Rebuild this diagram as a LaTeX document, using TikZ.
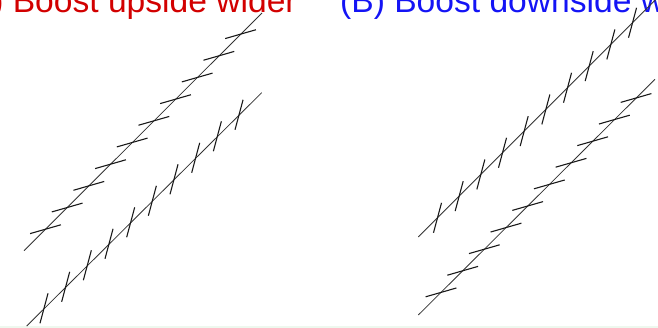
\documentclass[tikz,border=0pt]{standalone}
\usepackage{fontspec}
\setmainfont{Liberation Sans}
\usetikzlibrary{calc}
\definecolor{titlered}{RGB}{210,0,0}
\definecolor{titleblue}{RGB}{20,20,245}
\definecolor{edgegreen}{RGB}{238,248,238}
\tikzset{
  mainline/.style={line width=0.8pt, draw=black!80},
  tickline/.style={line width=1.1pt, draw=black!90},
  title/.style={anchor=base west, inner sep=0pt, font=\fontsize{33.6}{36}\selectfont}
}
\begin{document}
\begin{tikzpicture}[x=1pt,y=-1pt]
\useasboundingbox (0,0) rectangle (658,328);
\clip (0,0) rectangle (658,328);
\fill[edgegreen] (0,326.2) rectangle (658,328);
% titles
\node[title, text=titlered] (ta) at (-41.5,13) {(A) Boost upside wider};
\node[title, text=titleblue] (tb) at (340,13) {(B) Boost downside wider};
% left panel, upper line (shallow ticks)
\coordinate (la1) at (24,250.7);
\coordinate (la2) at (262,13);
\draw[mainline] (la1) -- (la2);
\foreach \k in {0,...,9}{
  \coordinate (c) at ({45.5+21.67*\k},{229.2-21.67*\k});
  \draw[tickline] ($(c)+(16:16pt)$) -- ($(c)+(196:16pt)$);
}
% left panel, lower line (steep ticks)
\coordinate (lb1) at (26.7,326);
\coordinate (lb2) at (261.7,92.7);
\draw[mainline] (lb1) -- (lb2);
\foreach \k in {0,...,9}{
  \coordinate (c) at ({44+21.67*\k},{308.3-21.5*\k});
  \draw[tickline] ($(c)+(75:15.5pt)$) -- ($(c)+(255:15.5pt)$);
}
% right panel, upper line (steep ticks)
\coordinate (ra1) at (418.3,237);
\coordinate (ra2) at (660,-4.7);
\draw[mainline] (ra1) -- (ra2);
\foreach \k in {0,...,9}{
  \coordinate (c) at ({437.5+21.67*\k},{217.8-21.67*\k});
  \draw[tickline] ($(c)+(75:15.5pt)$) -- ($(c)+(255:15.5pt)$);
}
% right panel, lower line (shallow ticks)
\coordinate (rb1) at (418.3,315);
\coordinate (rb2) at (655,79.3);
\draw[mainline] (rb1) -- (rb2);
\foreach \k in {0,...,9}{
  \coordinate (c) at ({441+21.67*\k},{292.4-21.6*\k});
  \draw[tickline] ($(c)+(16:16pt)$) -- ($(c)+(196:16pt)$);
}
\end{tikzpicture}
\end{document}
